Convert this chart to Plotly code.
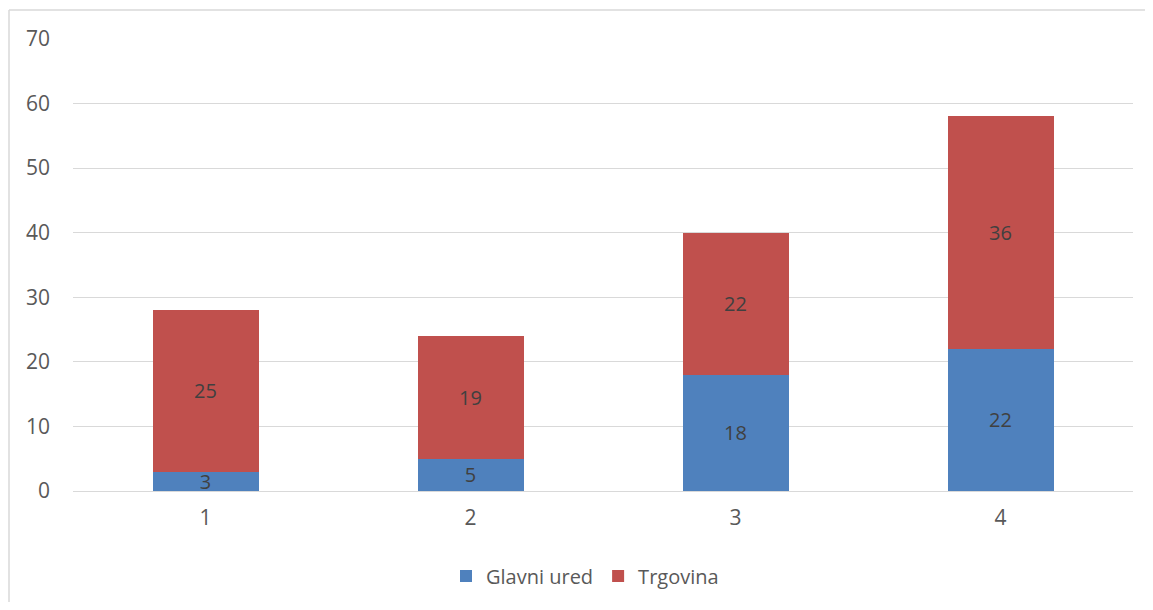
import plotly.graph_objects as go

categories = ["1", "2", "3", "4"]
glavni_ured = [3, 5, 18, 22]
trgovina = [25, 19, 22, 36]
series_names = ["Glavni ured", "Trgovina"]
y_ticks = [0, 10, 20, 30, 40, 50, 60, 70]

# page body has an 8px margin on every side, so the figure starts at (8, 8)
OFF = 8
W, H = 1153 - 2 * OFF, 610 - 2 * OFF
L, T = 73 - OFF, 39 - OFF
R = W - (1133 - OFF)
B = H - (491 - OFF)
pw, ph = W - L - R, H - T - B

fam = "Open Sans, Noto Sans, sans-serif"
tick_font = dict(family=fam, size=21, color="#595959")
label_font = dict(family=fam, size=20, color="#404040")
legend_font = dict(family=fam, size=20, color="#595959")

fig = go.Figure()
fig.add_trace(go.Bar(x=categories, y=glavni_ured, name=series_names[0],
                     marker=dict(color="#4F81BD", line=dict(width=0)),
                     text=glavni_ured, textposition="inside", insidetextanchor="middle",
                     textangle=0, constraintext="none", textfont=label_font))
fig.add_trace(go.Bar(x=categories, y=trgovina, name=series_names[1],
                     marker=dict(color="#C0504D", line=dict(width=0)),
                     text=trgovina, textposition="inside", insidetextanchor="middle",
                     textangle=0, constraintext="none", textfont=label_font))

def px_x(p):
    return (p - OFF - L) / pw

def px_y(p):
    return (H - B - (p - OFF)) / ph

border = dict(color="#D9D9D9", width=1.5)
fig.update_layout(
    width=W, height=H,
    margin=dict(l=L, r=R, t=T, b=B, autoexpand=False),
    barmode="stack", bargap=0.6,
    plot_bgcolor="white", paper_bgcolor="white",
    font=tick_font,
    uniformtext=dict(mode="show", minsize=20),
    xaxis=dict(type="category", showgrid=False, showline=False, zeroline=False,
               ticks="", tickfont=tick_font, ticklabelstandoff=12),
    yaxis=dict(range=[0, 70], tickvals=y_ticks, showgrid=True, gridcolor="#D9D9D9",
               gridwidth=1, zeroline=True, zerolinecolor="#D9D9D9", zerolinewidth=1,
               showline=False, ticks="", tickfont=tick_font, ticklabelstandoff=22),
    legend=dict(orientation="h", x=px_x(585), xanchor="center", y=px_y(576),
                yanchor="middle", font=legend_font, itemsizing="constant",
                itemwidth=30, traceorder="normal"),
    showlegend=True,
    shapes=[
        dict(type="line", xref="paper", yref="paper", x0=px_x(9), x1=px_x(1160),
             y0=px_y(10), y1=px_y(10), line=border, layer="below"),
        dict(type="line", xref="paper", yref="paper", x0=px_x(9), x1=px_x(9),
             y0=px_y(10), y1=px_y(620), line=border, layer="below"),
    ],
)

fig.write_html("out.html")
